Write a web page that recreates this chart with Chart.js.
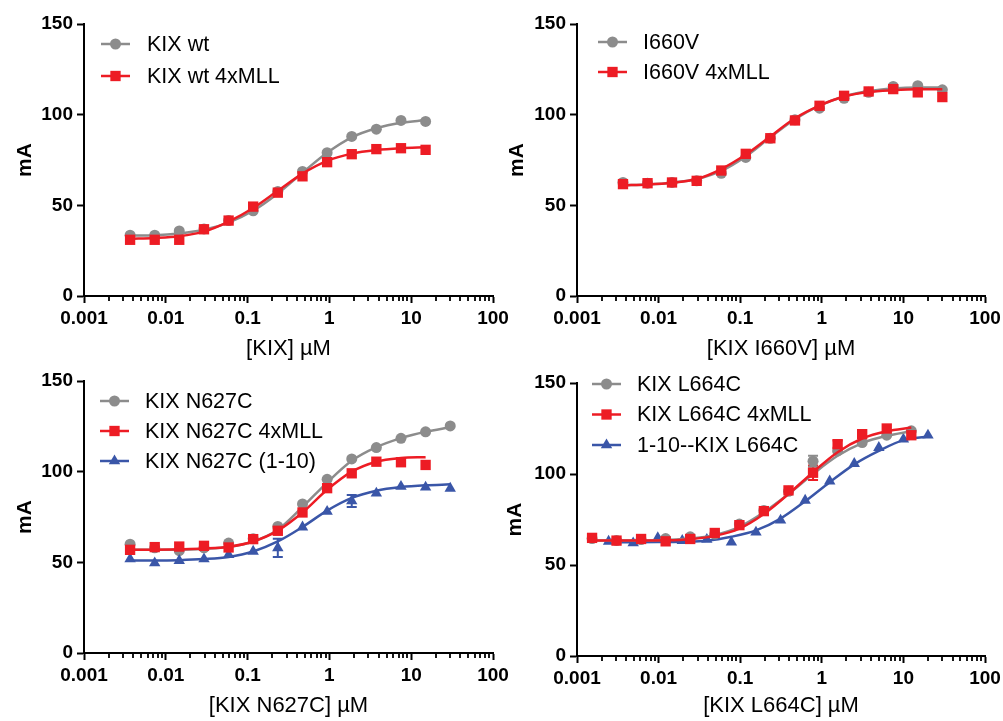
<!DOCTYPE html>
<html>
<head>
<meta charset="utf-8">
<script src="https://cdn.jsdelivr.net/npm/chart.js@4.4.0/dist/chart.umd.min.js"></script>
<style>
  body { margin: 0; background: #fff; }
  canvas { position: absolute; }
</style>
</head>
<body>
<canvas id="cA" width="512" height="362" style="left:0;top:0"></canvas>
<canvas id="cB" width="503" height="362" style="left:500px;top:0"></canvas>
<canvas id="cC" width="512" height="361" style="left:0;top:360px"></canvas>
<canvas id="cD" width="503" height="361" style="left:500px;top:360px"></canvas>
<script>
const GRAY = '#8c8c8c';
const RED = '#ed1c24';
const BLUE = '#3a56a8';

const majorTicks = [0.001, 0.01, 0.1, 1, 10, 100];
const majorLabels = ['0.001', '0.01', '0.1', '1', '10', '100'];
const yTicks = [0, 50, 100, 150];

// KIX wt
const concA = [0.00366, 0.00732, 0.0146, 0.0293, 0.0586, 0.117, 0.234, 0.469, 0.938, 1.875, 3.75, 7.5, 15];
const wtPts = [33.5, 33.5, 35.9, 37.0, 41.6, 47.0, 57.6, 68.7, 79.0, 88.0, 92.0, 96.8, 96.3];
const wtFit = [33.3, 33.5, 34.5, 36.5, 40.5, 47.0, 56.5, 68.0, 79.0, 87.5, 92.5, 95.5, 97.0];
const wtMllPts = [31.0, 31.0, 31.0, 36.8, 41.6, 49.3, 57.0, 66.0, 73.8, 78.2, 81.0, 81.5, 80.6];
const wtMllFit = [31.5, 32.0, 33.0, 35.5, 41.0, 48.5, 58.0, 67.5, 74.5, 78.5, 80.5, 81.5, 82.0];

// I660V
const concB = [0.00366, 0.00732, 0.0146, 0.0293, 0.0586, 0.117, 0.234, 0.469, 0.938, 1.875, 3.75, 7.5, 15, 30];
const i660Pts = [62.6, 62.2, 62.6, 63.5, 67.7, 76.4, 87.0, 97.2, 103.6, 109.0, 112.3, 115.6, 116.0, 113.7];
const i660Fit = [61.0, 61.5, 62.5, 64.5, 69.0, 77.0, 87.5, 97.5, 105.0, 110.0, 113.0, 114.5, 115.0, 115.0];
const i660MllPts = [61.7, 62.2, 62.6, 63.5, 69.2, 78.4, 87.0, 96.8, 104.9, 110.4, 112.8, 114.1, 112.3, 109.7];
const i660MllFit = [61.0, 61.5, 62.5, 64.5, 70.0, 78.0, 88.0, 98.0, 105.0, 110.0, 112.5, 113.5, 114.0, 114.0];

// N627C
const concC = [0.00366, 0.00732, 0.0146, 0.0293, 0.0586, 0.117, 0.234, 0.469, 0.938, 1.875, 3.75, 7.5, 15, 30];
const n627cPts = [60.0, 58.0, 56.4, 58.0, 60.6, 63.0, 69.8, 82.2, 95.8, 107.0, 113.3, 118.4, 122.0, 125.2];
const n627cFit = [57.0, 57.0, 57.0, 57.5, 58.5, 61.5, 68.0, 80.5, 94.0, 106.0, 113.5, 118.5, 122.0, 124.5];
const n627cMllPts = [56.9, 58.4, 58.7, 59.1, 58.2, 62.8, 67.4, 77.5, 90.9, 99.1, 105.5, 105.2, 103.7];
const n627cMllFit = [57.0, 57.0, 57.2, 57.6, 58.6, 61.5, 67.5, 77.5, 90.0, 100.0, 105.5, 107.5, 108.0];
const n627cTriPts = [51.8, 49.6, 50.9, 51.8, 54.2, 56.0, 58.0, 69.4, 78.0, 83.8, 88.1, 91.8, 91.4, 90.8];
const n627cTriErr = [0, 0, 0, 0, 0, 0, 5, 0, 0, 3.3, 0, 0, 0, 0];
const n627cTriFit = [51.0, 51.0, 51.2, 51.8, 53.0, 56.0, 61.5, 69.5, 78.5, 85.5, 89.5, 91.5, 92.5, 93.0];

// L664C
const concD = [0.00153, 0.00305, 0.0061, 0.0122, 0.0244, 0.0488, 0.0977, 0.195, 0.391, 0.781, 1.5625, 3.125, 6.25, 12.5];
const l664Pts = [64.5, 63.5, 64.0, 64.5, 65.5, 67.0, 72.5, 80.0, 90.5, 107.0, 112.7, 117.3, 121.3, 123.7];
const l664Err = [0, 0, 0, 0, 0, 0, 0, 0, 0, 3, 0, 0, 0, 0];
const l664Fit = [63.5, 63.5, 63.5, 63.8, 64.5, 66.5, 71.0, 79.0, 89.0, 100.0, 110.0, 117.0, 121.0, 123.5];
const l664MllPts = [64.9, 63.4, 64.3, 63.0, 64.3, 67.6, 71.9, 79.6, 91.0, 100.7, 116.4, 121.9, 125.0, 121.3];
const l664MllErr = [0, 0, 0, 0, 0, 0, 0, 0, 0, 4, 2, 0, 0, 0];
const l664MllFit = [63.5, 63.5, 63.5, 63.6, 64.2, 66.0, 70.0, 78.0, 89.0, 101.0, 112.0, 119.5, 123.5, 125.5];
const concD3 = [0.00244, 0.00488, 0.00977, 0.0195, 0.039, 0.078, 0.156, 0.3125, 0.625, 1.25, 2.5, 5, 10, 20];
const l664TriPts = [63.0, 62.1, 64.9, 63.4, 64.0, 62.5, 68.0, 74.6, 85.5, 96.1, 105.7, 114.5, 119.1, 121.3];
const l664TriFit = [62.5, 62.5, 62.6, 62.8, 63.3, 65.5, 69.0, 75.5, 85.0, 95.5, 105.3, 112.7, 118.6, 120.6];

// log minor ticks 2..9 per decade
const xTickValues = [];
for (let e = -3; e <= 1; e++) {
  for (let m = 1; m <= 9; m++) xTickValues.push(Number((m * Math.pow(10, e)).toPrecision(3)));
}
xTickValues.push(100);

const zip = (xs, ys) => ys.map((y, i) => ({ x: xs[i], y: y }));

// marker sizes
const R_CIRCLE = 5.5, R_RECT = 7.3, R_TRI = 6.6;

function pts(label, xs, ys, color, style, radius, order, errs) {
  return {
    label: label, data: zip(xs, ys), showLine: false, pointStyle: style,
    pointRadius: radius, pointHoverRadius: radius, backgroundColor: color,
    borderColor: color, borderWidth: 0, order: order, errs: errs || null
  };
}
function fit(xs, ys, color, order) {
  return {
    label: '', data: zip(xs, ys), showLine: true, pointRadius: 0,
    borderColor: color, borderWidth: 2.5, cubicInterpolationMode: 'monotone',
    order: order, isFit: true
  };
}

const extras = {
  id: 'extras',
  beforeDatasetsDraw(chart) {
    const ctx = chart.ctx, ys = chart.scales.y, xs = chart.scales.x;
    chart.data.datasets.forEach(ds => {
      if (!ds.errs) return;
      ctx.save();
      ctx.strokeStyle = ds.borderColor;
      ctx.lineWidth = 2;
      ds.data.forEach((p, i) => {
        const e = ds.errs[i];
        if (!e) return;
        const px = xs.getPixelForValue(p.x);
        const top = ys.getPixelForValue(p.y + e), bot = ys.getPixelForValue(p.y - e);
        ctx.beginPath();
        ctx.moveTo(px, top); ctx.lineTo(px, bot);
        ctx.moveTo(px - 5, top); ctx.lineTo(px + 5, top);
        ctx.moveTo(px - 5, bot); ctx.lineTo(px + 5, bot);
        ctx.stroke();
      });
      ctx.restore();
    });
  },
  afterDraw(chart, args, opts) {
    const ctx = chart.ctx, xs = chart.scales.x;
    const bottom = chart.chartArea.bottom;
    ctx.save();
    ctx.strokeStyle = '#000';
    ctx.lineWidth = 1.8;
    xs.ticks.forEach(t => {
      if (t.major) return;
      const px = Math.round(xs.getPixelForValue(t.value));
      ctx.beginPath();
      ctx.moveTo(px, bottom);
      ctx.lineTo(px, bottom + 5);
      ctx.stroke();
    });
    // legend
    const lg = opts.legend;
    ctx.font = '21.5px "Liberation Sans", Arial, sans-serif';
    ctx.textBaseline = 'middle';
    ctx.fillStyle = '#000';
    lg.items.forEach((it, i) => {
      const y = lg.y + i * lg.dy;
      ctx.strokeStyle = it.color;
      ctx.lineWidth = 2.5;
      ctx.beginPath();
      ctx.moveTo(lg.x, y); ctx.lineTo(lg.x + 29, y);
      ctx.stroke();
      ctx.fillStyle = it.color;
      Chart.helpers.drawPoint(ctx, { pointStyle: it.style, radius: it.radius, borderWidth: 0 }, lg.x + 14.5, y);
      ctx.fillStyle = '#000';
      ctx.fillText(it.label, lg.textX, y + 1);
    });
    ctx.restore();
  }
};

function makePanel(id, cfg) {
  const canvas = document.getElementById(id);
  const W = canvas.width, H = canvas.height;
  new Chart(canvas, {
    type: 'scatter',
    data: { datasets: cfg.datasets },
    plugins: [extras],
    options: {
      responsive: false,
      animation: false,
      layout: { padding: { left: 0, top: cfg.area.top, right: W - cfg.area.right, bottom: 0 } },
      plugins: {
        legend: { display: false },
        tooltip: { enabled: false },
        extras: { legend: cfg.legend }
      },
      scales: {
        x: {
          type: 'logarithmic', min: 0.001, max: 100,
          afterBuildTicks: s => { s.ticks = xTickValues.map(v => ({ value: v, major: majorTicks.includes(v) })); },
          afterFit: s => { s.height = H - cfg.area.bottom; s.paddingLeft = 0; s.paddingRight = 0; },
          border: { display: true, color: '#000', width: 2 },
          grid: {
            drawOnChartArea: false, drawTicks: true, tickLength: 7, tickWidth: 2,
            tickColor: c => (c.tick && c.tick.major) ? '#000' : 'rgba(0,0,0,0)'
          },
          ticks: {
            autoSkip: false, maxRotation: 0, padding: 4, color: '#000',
            font: { family: '"Liberation Sans", Arial, sans-serif', size: 19, weight: 'bold' },
            callback: v => { const k = majorTicks.indexOf(v); return k >= 0 ? majorLabels[k] : ''; }
          },
          title: {
            display: true, text: cfg.xTitle, color: '#000', padding: { top: 0, bottom: cfg.xTitlePad },
            font: { family: '"Liberation Sans", Arial, sans-serif', size: 22 }
          }
        },
        y: {
          min: 0, max: 150,
          afterBuildTicks: s => { s.ticks = yTicks.map(v => ({ value: v })); },
          afterFit: s => { s.width = cfg.area.left; s.paddingTop = 0; s.paddingBottom = 0; },
          border: { display: true, color: '#000', width: 2 },
          grid: { drawOnChartArea: false, drawTicks: true, tickLength: 7, tickWidth: 2, tickColor: '#000' },
          ticks: {
            padding: 4, color: '#000',
            font: { family: '"Liberation Sans", Arial, sans-serif', size: 19, weight: 'bold' }
          },
          title: {
            display: true, text: 'mA', color: '#000', padding: { top: cfg.yTitlePad, bottom: 0 },
            font: { family: '"Liberation Sans", Arial, sans-serif', size: 21, weight: 'bold' }
          }
        }
      }
    }
  });
}

makePanel('cA', {
  area: { left: 84, right: 493, top: 24, bottom: 296 },
  xTitle: '[KIX] \u00b5M', xTitlePad: 0, yTitlePad: 13,
  legend: { x: 101, textX: 147, y: 44, dy: 32, items: [
    { label: 'KIX wt', color: GRAY, style: 'circle', radius: R_CIRCLE },
    { label: 'KIX wt 4xMLL', color: RED, style: 'rect', radius: R_RECT }
  ] },
  datasets: [
    pts('KIX wt 4xMLL', concA, wtMllPts, RED, 'rect', R_RECT, 1),
    fit(concA, wtMllFit, RED, 2),
    pts('KIX wt', concA, wtPts, GRAY, 'circle', R_CIRCLE, 3),
    fit(concA, wtFit, GRAY, 4)
  ]
});

makePanel('cB', {
  area: { left: 77, right: 485, top: 24, bottom: 296 },
  xTitle: '[KIX I660V] \u00b5M', xTitlePad: 0, yTitlePad: 5,
  legend: { x: 98, textX: 143, y: 42, dy: 30, items: [
    { label: 'I660V', color: GRAY, style: 'circle', radius: R_CIRCLE },
    { label: 'I660V 4xMLL', color: RED, style: 'rect', radius: R_RECT }
  ] },
  datasets: [
    pts('I660V 4xMLL', concB, i660MllPts, RED, 'rect', R_RECT, 1),
    fit(concB, i660MllFit, RED, 2),
    pts('I660V', concB, i660Pts, GRAY, 'circle', R_CIRCLE, 3),
    fit(concB, i660Fit, GRAY, 4)
  ]
});

makePanel('cC', {
  area: { left: 84, right: 493, top: 21, bottom: 293 },
  xTitle: '[KIX N627C] \u00b5M', xTitlePad: 2, yTitlePad: 13,
  legend: { x: 100, textX: 145, y: 41, dy: 30, items: [
    { label: 'KIX N627C', color: GRAY, style: 'circle', radius: R_CIRCLE },
    { label: 'KIX N627C 4xMLL', color: RED, style: 'rect', radius: R_RECT },
    { label: 'KIX N627C (1-10)', color: BLUE, style: 'triangle', radius: R_TRI }
  ] },
  datasets: [
    pts('KIX N627C 4xMLL', concC, n627cMllPts, RED, 'rect', R_RECT, 1),
    fit(concC, n627cMllFit, RED, 2),
    pts('KIX N627C (1-10)', concC, n627cTriPts, BLUE, 'triangle', R_TRI, 3, n627cTriErr),
    fit(concC, n627cTriFit, BLUE, 4),
    pts('KIX N627C', concC, n627cPts, GRAY, 'circle', R_CIRCLE, 5),
    fit(concC, n627cFit, GRAY, 6)
  ]
});

makePanel('cD', {
  area: { left: 77, right: 485, top: 23, bottom: 296 },
  xTitle: '[KIX L664C] \u00b5M', xTitlePad: 2, yTitlePad: 3,
  legend: { x: 92, textX: 137, y: 24, dy: 30.5, items: [
    { label: 'KIX L664C', color: GRAY, style: 'circle', radius: R_CIRCLE },
    { label: 'KIX L664C 4xMLL', color: RED, style: 'rect', radius: R_RECT },
    { label: '1-10--KIX L664C', color: BLUE, style: 'triangle', radius: R_TRI }
  ] },
  datasets: [
    pts('KIX L664C 4xMLL', concD, l664MllPts, RED, 'rect', R_RECT, 1, l664MllErr),
    fit(concD, l664MllFit, RED, 2),
    pts('KIX L664C', concD, l664Pts, GRAY, 'circle', R_CIRCLE, 3, l664Err),
    fit(concD, l664Fit, GRAY, 4),
    pts('1-10--KIX L664C', concD3, l664TriPts, BLUE, 'triangle', R_TRI, 5),
    fit(concD3, l664TriFit, BLUE, 6)
  ]
});
</script>
</body>
</html>
